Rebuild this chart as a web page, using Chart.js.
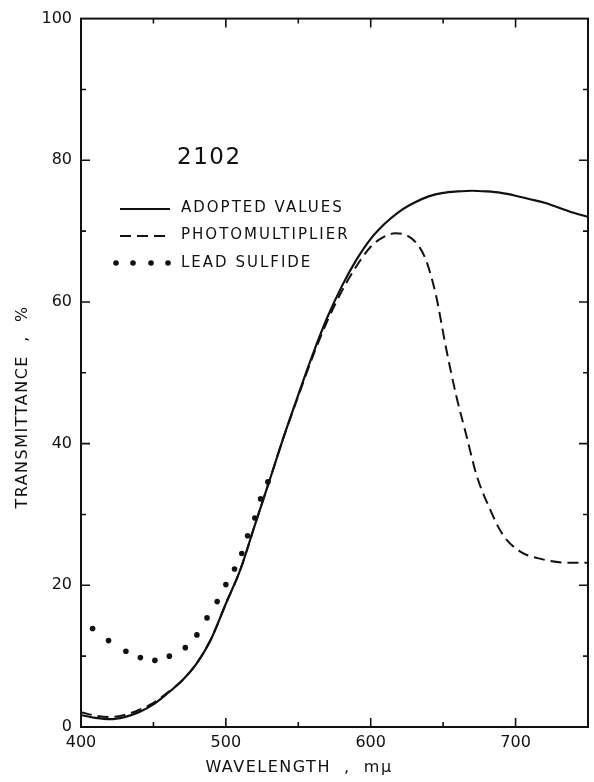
<!DOCTYPE html>
<html>
<head>
<meta charset="utf-8">
<script src="https://cdn.jsdelivr.net/npm/chart.js@4.4.1/dist/chart.umd.min.js"></script>
<style>
  html, body { margin: 0; padding: 0; background: #fff; }
  #grafica-contenedor { width: 594px; height: 782px; position: relative; }
</style>
</head>
<body>
<div id="grafica-contenedor"><canvas id="grafica"></canvas></div>
<script>
// wavelength in mμ, transmittance in %
const adoptedWl = [400, 410, 420, 430, 440, 450, 460, 470, 480, 490, 500, 510, 520, 530, 540, 550, 560, 570, 580, 590,
  600, 610, 620, 630, 640, 650, 660, 670, 680, 690, 700, 710, 720, 730, 740, 750];
const adoptedT = [1.7, 1.3, 1.1, 1.4, 2.1, 3.2, 4.8, 6.6, 9.0, 12.5, 17.4, 22.2, 28.5, 34.7, 41.0, 46.9, 52.6, 57.8, 62.2, 65.9,
  68.9, 71.1, 72.8, 74.0, 74.9, 75.4, 75.6, 75.7, 75.6, 75.4, 75.0, 74.5, 74.0, 73.3, 72.6, 72.0];

const photoWl = [400, 410, 420, 430, 440, 450, 460, 470, 480, 490, 500, 510, 520, 530, 540, 550, 560, 570, 580, 590,
  600, 610, 617, 625, 632, 638, 645, 652, 659, 666, 673, 682, 691, 703, 716, 735, 750];
const photoT = [2.1, 1.6, 1.4, 1.7, 2.4, 3.4, 4.9, 6.6, 9.0, 12.5, 17.4, 22.2, 28.5, 34.7, 41.0, 46.7, 52.3, 57.3, 61.5, 65.0,
  67.8, 69.3, 69.7, 69.4, 68.2, 66.0, 61.0, 53.5, 46.8, 41.2, 35.6, 30.9, 27.2, 24.8, 23.8, 23.2, 23.2];

const leadWl = [408, 419, 431, 441, 451, 461, 472, 480, 487, 494, 500, 506, 511, 515, 520, 524, 529];
const leadT = [13.9, 12.2, 10.7, 9.8, 9.4, 10.0, 11.2, 13.0, 15.4, 17.7, 20.1, 22.3, 24.5, 27.0, 29.5, 32.2, 34.6];

const xTickLabels = [400, 500, 600, 700];
const yTickLabels = [0, 20, 40, 60, 80, 100];
const sampleName = '2102';
const seriesNames = ['ADOPTED VALUES', 'PHOTOMULTIPLIER', 'LEAD SULFIDE'];
const xTitle = 'WAVELENGTH  ,  mμ';
const yTitle = 'TRANSMITTANCE  ,  %';

const ink = '#111';
const font = '"DejaVu Sans", sans-serif';

const toPoints = (xs, ys) => xs.map((x, i) => ({x: x, y: ys[i]}));

// frame, inward ticks, titles and the inset legend
const decorations = {
  id: 'decorations',
  afterDraw(chart) {
    const ctx = chart.ctx;
    const a = chart.chartArea;
    const xs = chart.scales.x;
    const ys = chart.scales.y;
    ctx.save();
    ctx.strokeStyle = ink;
    ctx.lineWidth = 2;
    ctx.strokeRect(a.left, a.top, a.right - a.left, a.bottom - a.top);

    ctx.lineWidth = 1.6;
    ctx.beginPath();
    for (let v = 450; v < 750; v += 50) {
      const px = xs.getPixelForValue(v);
      const len = xTickLabels.includes(v) ? 9 : 5;
      ctx.moveTo(px, a.bottom); ctx.lineTo(px, a.bottom - len);
      ctx.moveTo(px, a.top); ctx.lineTo(px, a.top + len);
    }
    for (let v = 10; v < 100; v += 10) {
      const py = ys.getPixelForValue(v);
      const len = yTickLabels.includes(v) ? 9 : 5;
      ctx.moveTo(a.left, py); ctx.lineTo(a.left + len, py);
      ctx.moveTo(a.right, py); ctx.lineTo(a.right - len, py);
    }
    ctx.stroke();

    ctx.letterSpacing = '1.5px';
    ctx.fillStyle = ink;
    ctx.textBaseline = 'middle';
    ctx.textAlign = 'center';
    ctx.font = '16px ' + font;
    ctx.fillText(xTitle, 299, 768);
    ctx.save();
    ctx.translate(23, 407);
    ctx.rotate(-Math.PI / 2);
    ctx.fillText(yTitle, 0, 0);
    ctx.restore();

    ctx.textAlign = 'left';
    ctx.font = '23px ' + font;
    ctx.fillText(sampleName, 177, 158);

    ctx.letterSpacing = '2px';
    ctx.font = '15px ' + font;
    const rows = [208, 235, 263];
    chart.data.datasets.forEach((ds, i) => {
      const y = rows[i];
      ctx.strokeStyle = ink;
      ctx.lineWidth = 2;
      if (ds.showLine === false) {
        [116, 133, 151, 168].forEach(x => {
          ctx.beginPath();
          ctx.arc(x, y, 2.8, 0, Math.PI * 2);
          ctx.fill();
        });
      } else {
        ctx.setLineDash(ds.borderDash || []);
        ctx.beginPath();
        ctx.moveTo(120, y + 1); ctx.lineTo(170, y + 1);
        ctx.stroke();
        ctx.setLineDash([]);
      }
      ctx.fillText(ds.label, 181, y);
    });
    ctx.letterSpacing = '0px';
    ctx.restore();
  }
};

new Chart(document.getElementById('grafica'), {
  type: 'scatter',
  data: {
    datasets: [
      {
        label: seriesNames[0],
        data: toPoints(adoptedWl, adoptedT),
        showLine: true,
        borderColor: ink,
        borderWidth: 2.2,
        pointRadius: 0,
        cubicInterpolationMode: 'monotone'
      },
      {
        label: seriesNames[1],
        data: toPoints(photoWl, photoT),
        showLine: true,
        borderColor: ink,
        borderWidth: 2,
        borderDash: [11, 6],
        pointRadius: 0,
        cubicInterpolationMode: 'monotone'
      },
      {
        label: seriesNames[2],
        data: toPoints(leadWl, leadT),
        showLine: false,
        pointRadius: 2.8,
        pointBorderWidth: 0,
        pointBackgroundColor: ink
      }
    ]
  },
  options: {
    responsive: true,
    maintainAspectRatio: false,
    animation: false,
    layout: {
      padding: {top: 14, right: 4, left: 0, bottom: 0}
    },
    plugins: {
      legend: {display: false},
      tooltip: {enabled: false}
    },
    scales: {
      x: {
        type: 'linear',
        min: 400,
        max: 750,
        grid: {display: false, drawTicks: false},
        border: {display: false},
        afterFit: scale => { scale.height = 55; },
        ticks: {
          stepSize: 50,
          padding: 6,
          color: ink,
          font: {family: font, size: 16},
          maxRotation: 0,
          autoSkip: false,
          callback: v => xTickLabels.includes(v) ? String(v) : ''
        }
      },
      y: {
        min: 0,
        max: 100,
        grid: {display: false, drawTicks: false},
        border: {display: false},
        afterFit: scale => { scale.width = 81; },
        ticks: {
          stepSize: 10,
          padding: 9,
          color: ink,
          font: {family: font, size: 16},
          autoSkip: false,
          callback: v => yTickLabels.includes(v) ? String(v) : ''
        }
      }
    }
  },
  plugins: [decorations]
});
</script>
</body>
</html>
